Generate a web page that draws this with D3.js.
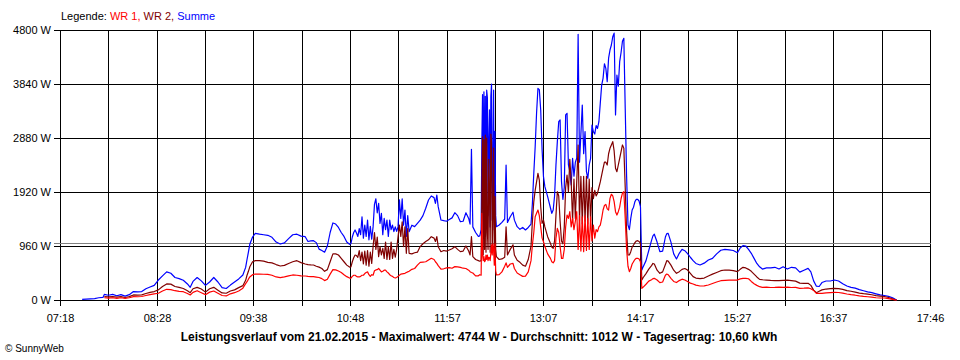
<!DOCTYPE html>
<html><head><meta charset="utf-8">
<script src="https://cdn.jsdelivr.net/npm/d3@7"></script>
<style>
html,body{margin:0;padding:0;background:#fff;}
svg{display:block;font-family:"Liberation Sans",Arial,sans-serif;}
</style></head>
<body><svg id="c" width="960" height="360"></svg>
<script>
const tickLabels = ["07:18","08:28","09:38","10:48","11:57","13:07","14:17","15:27","16:37","17:46"];
const yTickValues = [0,960,1920,2880,3840,4800];
const average = 1012;
const legendParts = [["Legende: ","#000000"],["WR 1, ","#ff0000"],["WR 2, ","#800000"],["Summe","#0000ff"]];
const titleText = "Leistungsverlauf vom 21.02.2015 - Maximalwert: 4744 W - Durchschnitt: 1012 W - Tagesertrag: 10,60 kWh";
const footerText = "\u00A9 SunnyWeb";

const times = [
"07:34","07:37","07:40","07:43","07:46","07:49","07:50","07:53","07:56","07:59",
"08:02","08:05","08:08","08:11","08:14","08:17","08:20","08:23","08:26","08:29",
"08:32","08:35","08:38","08:41","08:44","08:47","08:50","08:52","08:54","08:57",
"09:00","09:03","09:06","09:09","09:12","09:15","09:18","09:21","09:24","09:27",
"09:30","09:32","09:33","09:34","09:35","09:37",
"09:39","09:42","09:45","09:48","09:51","09:54","09:57","10:00","10:03","10:06",
"10:09","10:12","10:15","10:17","10:19","10:21","10:23","10:25","10:27","10:29",
"10:31","10:33","10:35","10:37","10:39","10:41","10:43","10:45","10:47",
"10:48","10:49","10:50","10:51","10:52","10:53","10:54","10:55","10:56","10:57",
"10:58","10:59","11:00","11:01","11:02","11:03","11:04","11:05","11:06","11:07",
"11:08","11:09","11:10","11:11","11:12","11:13","11:14","11:15","11:16","11:17",
"11:18","11:19","11:20","11:21","11:22","11:23","11:24","11:25","11:26","11:27",
"11:28","11:29","11:30","11:32","11:34","11:36","11:38","11:40","11:42","11:44",
"11:46","11:48","11:49","11:50","11:51","11:53","11:55","11:57","11:59","12:01",
"12:03","12:05","12:07","12:09","12:11","12:13","12:14","12:15","12:16","12:18",
"12:20","12:21",
"12:22:00","12:22:30","12:23:00","12:23:30","12:24:00","12:24:30","12:25:00","12:25:30","12:26:00","12:26:30",
"12:27:00","12:27:30","12:28:00","12:28:30","12:29:00","12:29:30","12:30:00","12:30:30","12:31:00","12:31:30",
"12:32:00","12:32:30","12:33:00",
"12:35","12:37","12:39","12:40","12:41","12:43","12:45","12:46","12:48","12:50",
"12:52","12:54","12:56","12:58","12:59","13:00","13:01","13:02","13:03","13:04",
"13:05","13:06","13:07","13:08","13:10","13:12","13:13","13:14",
"13:15","13:16","13:17","13:18","13:19","13:20","13:21","13:22","13:23","13:24",
"13:25","13:26","13:27","13:28","13:29","13:30","13:31","13:32","13:33","13:34",
"13:35","13:36","13:37","13:38","13:39","13:40","13:41","13:42","13:43","13:44",
"13:45","13:46","13:47","13:48","13:49","13:50","13:51","13:52","13:53","13:54",
"13:55","13:56","13:57","13:58","13:59","14:00","14:01","14:02","14:03","14:04",
"14:05","14:06","14:07","14:08","14:09","14:10","14:11","14:12","14:13","14:14",
"14:15","14:16","14:17","14:18","14:19",
"14:21","14:23","14:25","14:26","14:27","14:29","14:31","14:33","14:35","14:36",
"14:37","14:39","14:41","14:43","14:45","14:47","14:49","14:51","14:53","14:55",
"14:57","15:00","15:03","15:06","15:09","15:12","15:15","15:18","15:21","15:24",
"15:27","15:29","15:31","15:33","15:35","15:37","15:39","15:41","15:43","15:45",
"15:48","15:51","15:54","15:57","16:00","16:03","16:06","16:09","16:12","16:15",
"16:18","16:20","16:22","16:24","16:26","16:28","16:31","16:34","16:37","16:40",
"16:43","16:46","16:49","16:52","16:55","16:58","17:01","17:04","17:07","17:10",
"17:13","17:16","17:19","17:21","17:22"
];

const summe = [
10,15,20,25,40,45,100,85,100,75,
95,70,95,150,145,150,200,230,260,355,
430,500,475,400,380,350,285,225,330,400,
340,260,320,400,320,220,205,265,320,375,
445,580,720,850,990,1120,
1185,1170,1160,1150,1115,1030,995,1015,1090,1160,
1170,1135,1125,1040,1050,1055,1020,905,880,850,
960,1200,1370,1350,1290,1200,1130,1030,990,
1000,1120,1200,1245,1190,1130,1270,1160,1480,1100,
1330,1130,1420,1070,1310,1080,1300,1700,1800,1550,
1720,1360,1540,1160,1450,1250,1420,1130,1420,1250,
1330,1215,1300,1220,1300,1780,1450,1800,1330,1600,
1130,1500,1215,1330,1304,1363,1420,1500,1630,1778,
1849,1820,1719,1867,1659,1422,1410,1400,1430,1460,
1552,1500,1392,1400,1550,1450,1350,2680,1300,1200,
1130,1140,
1250,2800,3650,1200,3700,1300,3620,1250,3730,3600,
1500,2845,3380,1300,3615,3840,1420,2400,3730,1250,
3000,1500,1304,
1333,1380,1440,2400,1380,1480,1560,1420,1304,1256,
1290,1245,1290,1351,1719,2252,2726,3319,3763,3740,
3378,2667,2193,2015,1837,1640,1541,1600,
1850,2400,2815,3170,3200,2104,1790,2000,3289,3319,
2400,2281,2045,2519,2200,2450,2519,4724,2450,2950,
3467,2600,2993,2281,2163,2400,2519,3111,2993,2950,
3100,3050,3170,3500,3822,3941,4200,4119,3882,4300,
4444,4533,4680,4744,3289,4000,3800,4237,4400,4600,
4652,3407,2200,1333,1250,1450,1600,1650,1748,1790,
1790,1760,1660,533,593,
700,880,1060,1140,1170,1030,860,870,1120,1180,
1185,1030,820,730,830,900,877,825,760,700,
650,622,655,711,740,820,885,900,892,880,
841,925,966,960,900,830,740,650,590,550,
570,570,581,550,590,550,581,570,495,530,
563,500,340,245,240,310,338,338,355,338,
290,249,225,210,185,165,145,130,110,90,
80,65,40,12,0
];

const wr2 = [
null,null,null,null,null,null,60,55,60,50,
60,45,60,90,88,90,115,135,150,180,
240,285,282,240,225,205,165,130,200,225,
195,140,200,225,175,125,120,160,180,220,
255,350,440,510,590,680,
700,700,690,670,660,630,604,615,650,680,
699,665,640,630,625,622,600,585,560,510,
540,680,820,820,800,740,680,620,585,
590,680,750,800,790,760,880,700,850,640,
870,620,880,600,850,650,950,1200,900,1120,
770,950,800,920,740,1030,720,950,720,1030,
740,900,760,900,1120,1330,1130,1390,950,1300,
830,1270,830,820,840,850,950,1000,1040,1070,
1126,1100,1040,1126,948,859,880,870,890,910,
948,900,860,870,960,870,800,1126,770,720,
700,690,
700,1800,2900,800,2850,900,2930,850,2880,1200,
900,2500,2000,850,2950,2800,900,1500,2700,800,
1840,900,770,
720,730,760,1300,800,900,980,800,705,670,
620,600,720,960,1400,1750,1950,2100,2252,2133,
1659,1363,1420,1300,1126,1008,940,920,
1050,1500,1926,1850,1400,1050,1000,1300,2000,2220,
1926,2500,2100,1400,2150,1450,2100,2756,1400,2200,
1350,2200,1400,2200,1350,2150,1400,2000,1800,1950,
1850,1900,2000,2100,2222,2341,2450,2450,2400,2600,
2696,2756,2815,2650,2341,2281,2400,2519,2637,2756,
2700,2000,1215,800,800,859,940,978,1020,1049,
1055,1040,1008,355,400,
470,550,610,650,640,530,474,500,630,699,
690,620,530,474,504,545,560,533,474,415,
390,380,390,427,460,490,521,533,530,521,
504,545,581,570,545,510,460,410,367,360,
355,348,343,343,350,355,345,335,300,296,
296,260,175,130,155,180,195,203,207,203,
190,166,155,140,122,112,105,93,78,70,
62,45,20,0,0
];

const wr1 = [
null,null,null,null,null,null,40,35,40,30,
40,30,40,60,58,62,80,95,110,120,
160,190,185,165,155,148,115,90,135,165,
130,95,140,160,120,80,72,110,130,160,
210,290,325,370,410,450,
462,460,458,455,440,410,397,410,430,445,
440,430,427,420,415,415,408,400,380,345,
370,460,540,535,515,490,450,415,390,
390,420,440,440,420,410,410,420,440,440,
470,490,500,450,420,450,440,520,535,540,
560,530,500,510,530,530,500,480,450,430,
420,400,390,400,420,440,460,465,470,474,
490,500,510,545,560,620,670,675,680,711,
741,720,680,650,610,550,555,570,575,565,
593,590,580,565,560,530,504,490,480,430,
430,450,
440,1540,800,700,770,680,700,800,720,800,
700,760,750,700,830,980,800,1000,900,620,
1000,520,445,
450,500,600,660,580,640,650,560,480,450,
420,425,500,700,980,1200,1480,1541,1600,1500,
1300,1100,1037,950,820,740,680,660,
700,1096,1274,1200,950,741,741,900,1300,1511,
1452,1570,1300,1452,1250,1400,1570,900,1500,870,
1480,860,1500,880,1450,900,1480,1050,1333,1100,
1250,1215,1300,1333,1452,1600,1680,1700,1620,1600,
1807,1880,1850,1750,1570,1511,1570,1650,1800,1900,
1926,1450,900,600,504,560,640,681,720,741,
741,730,681,207,230,
280,335,360,380,385,355,308,320,440,462,
450,385,330,310,345,370,355,330,300,284,
265,249,252,267,293,320,343,350,355,355,
355,375,385,385,378,330,290,260,237,225,
228,222,225,230,225,228,222,225,207,210,
215,200,170,119,119,119,125,132,137,133,
122,107,95,85,73,64,58,50,40,36,
36,25,10,0,0
];

if (summe.length !== times.length || wr1.length !== times.length || wr2.length !== times.length) {
  throw new Error("length mismatch " + times.length + " " + summe.length + " " + wr1.length + " " + wr2.length);
}

const toMin = s => +s.slice(0,2)*60 + +s.slice(3,5) + (s.length > 5 ? +s.slice(6,8)/60 : 0);
const startMin = toMin(tickLabels[0]);
const endMin = toMin(tickLabels[tickLabels.length-1]);
const L = 60, R = 930, T = 30, B = 300;
const x = d3.scaleLinear().domain([startMin, endMin]).range([L, R]);
const y = d3.scaleLinear().domain([0, 4800]).range([B, T]);
const px = v => Math.round(v) + 0.5;

const svg = d3.select("#c");
svg.append("rect").attr("width",960).attr("height",360).attr("fill","#fff");

// grid
const gridTimes = d3.range(19).map(i => startMin + i*(endMin-startMin)/18);
const g = svg.append("g").attr("shape-rendering","crispEdges");
g.selectAll("line.v").data(gridTimes).join("line")
  .attr("x1", d => px(x(d))).attr("x2", d => px(x(d)))
  .attr("y1", T).attr("y2", B + 6)
  .attr("stroke","#000").attr("stroke-width",1);
g.selectAll("line.h").data(yTickValues).join("line")
  .attr("x1", L - 6).attr("x2", R + 1)
  .attr("y1", d => px(y(d))).attr("y2", d => px(y(d)))
  .attr("stroke","#000").attr("stroke-width",1);
// average line
g.append("line").attr("x1", L - 6).attr("x2", R + 1)
  .attr("y1", px(y(average))).attr("y2", px(y(average)))
  .attr("stroke","#808080").attr("stroke-width",1);

// labels
svg.selectAll("text.yl").data(yTickValues).join("text")
  .attr("x", 51).attr("y", d => y(d)).attr("dy","0.35em")
  .attr("text-anchor","end").attr("font-size", 11).attr("fill","#000")
  .text(d => d + " W");
svg.selectAll("text.xl").data(tickLabels).join("text")
  .attr("x", (d,i) => px(x(gridTimes[i*2]))).attr("y", 322)
  .attr("text-anchor","middle").attr("font-size", 11).attr("fill","#000")
  .text(d => d);

// series
const rows = times.map((t,i) => ({t: toMin(t), s: summe[i], a: wr1[i], b: wr2[i]}));
const series = [["s","#0000ff"],["b","#800000"],["a","#ff0000"]];
series.forEach(([k,c]) => {
  const line = d3.line().defined(d => d[k] != null)
    .x(d => x(d.t)).y(d => y(d[k]));
  svg.append("path").datum(rows).attr("d", line)
    .attr("fill","none").attr("stroke", c).attr("stroke-width", 1.2)
    .attr("stroke-linejoin","round");
});

// legend
const leg = svg.append("text").attr("x", 61).attr("y", 20).attr("font-size", 11).style("white-space","pre");
legendParts.forEach(([t,c]) => leg.append("tspan").attr("fill", c).text(t));

// title and footer
svg.append("text").attr("x", 479).attr("y", 341).attr("text-anchor","middle")
  .attr("font-size", 12).attr("font-weight","bold").attr("fill","#000").text(titleText);
svg.append("text").attr("x", 5).attr("y", 352).attr("font-size", 10).attr("fill","#000").text(footerText);
</script>
</body></html>
